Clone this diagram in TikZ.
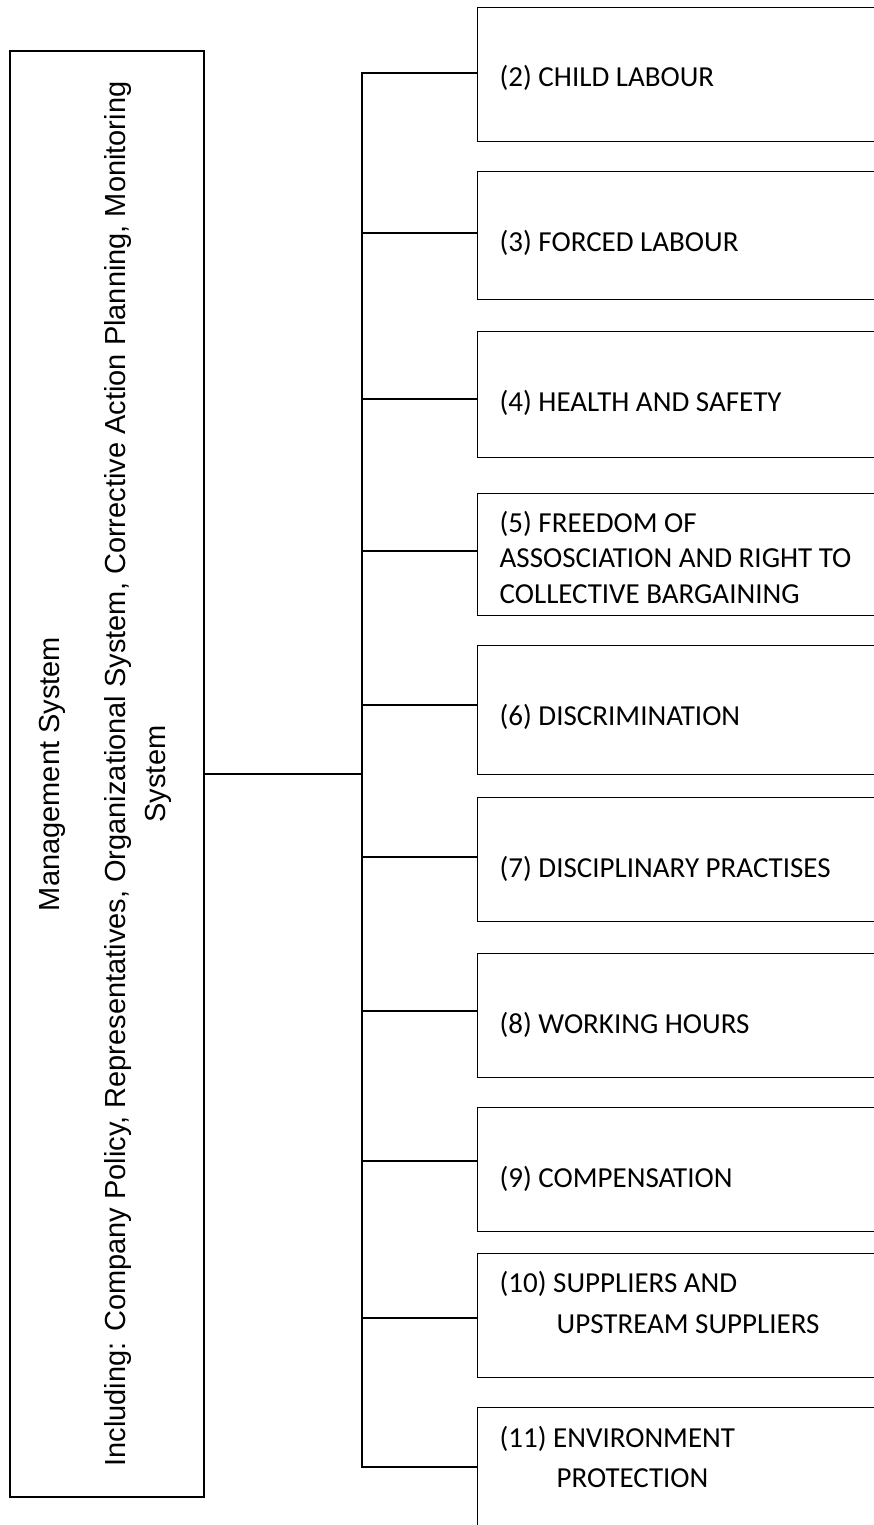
\documentclass[tikz,border=0pt]{standalone}
\usepackage{fontspec}
\setmainfont{Carlito}
\newfontfamily\arialf{Liberation Sans}
\begin{document}
\begin{tikzpicture}[x=1pt,y=-1pt,line width=1.3pt,
  topic/.style={draw, rectangle, minimum width=430pt, inner sep=0pt, anchor=north west},
  lbl/.style={anchor=base west, inner sep=0pt, font=\fontsize{29}{35.5}\selectfont},
  vlbl/.style={rotate=90, anchor=base, inner sep=0pt, font=\arialf\fontsize{29}{40}\selectfont}]
\useasboundingbox (0,0) rectangle (874,1525);
\clip (0,0) rectangle (874,1525);
% main box
\node[draw, rectangle, minimum width=194pt, minimum height=1446pt, inner sep=0pt] (main) at (107,774) {};
\node[vlbl] (mt1) at (59,774) {Management System};
\node[vlbl] (mt2) at (125,774) {\parbox[t]{1500pt}{\centering Including: Company Policy, Representatives, Organizational System, Corrective Action Planning, Monitoring\\System}};
% topic boxes
\node[topic, minimum height=134pt] (b2) at (477,7) {};
\node[topic, minimum height=128pt] (b3) at (477,171) {};
\node[topic, minimum height=126pt] (b4) at (477,331) {};
\node[topic, minimum height=122pt] (b5) at (477,493) {};
\node[topic, minimum height=129pt] (b6) at (477,645) {};
\node[topic, minimum height=124pt] (b7) at (477,797) {};
\node[topic, minimum height=124pt] (b8) at (477,953) {};
\node[topic, minimum height=124pt] (b9) at (477,1107) {};
\node[topic, minimum height=124pt] (b10) at (477,1253) {};
\node[topic, minimum height=140pt] (b11) at (477,1407) {};
% labels
\node[lbl] (l2) at (499,87) {(2) CHILD LABOUR};
\node[lbl] (l3) at (499,251) {(3) FORCED LABOUR};
\node[lbl] (l4) at (499,411) {(4) HEALTH AND SAFETY};
\node[lbl] (l5) at (499,532) {\parbox[t]{370pt}{\raggedright (5) FREEDOM OF\\ASSOSCIATION AND RIGHT TO\\COLLECTIVE BARGAINING}};
\node[lbl] (l6) at (499,725) {(6) DISCRIMINATION};
\node[lbl] (l7) at (499,877) {(7) DISCIPLINARY PRACTISES};
\node[lbl] (l8) at (499,1033) {(8) WORKING HOURS};
\node[lbl] (l9) at (499,1187) {(9) COMPENSATION};
\node[lbl] (l10) at (499,1292) {\parbox[t]{370pt}{\raggedright (10) SUPPLIERS AND\\[5.5pt]\hspace*{57pt}UPSTREAM SUPPLIERS}};
\node[lbl] (l11) at (499,1447) {\parbox[t]{370pt}{\raggedright (11) ENVIRONMENT\\[4.5pt]\hspace*{57pt}PROTECTION}};
% trunk coordinates
\coordinate (t2) at (362,73);
\coordinate (t3) at (362,233);
\coordinate (t4) at (362,399);
\coordinate (t5) at (362,551);
\coordinate (t6) at (362,705);
\coordinate (t7) at (362,857);
\coordinate (t8) at (362,1011);
\coordinate (t9) at (362,1161);
\coordinate (t10) at (362,1318);
\coordinate (t11) at (362,1467);
% connectors
\draw (main.east) -- (main.east -| t2);
\draw (b2.west |- t2) -- (t2) -- (t11) -- (b11.west |- t11);
\foreach \i in {3,...,10}{\draw (t\i) -- (b\i.west |- t\i);}
\end{tikzpicture}
\end{document}
